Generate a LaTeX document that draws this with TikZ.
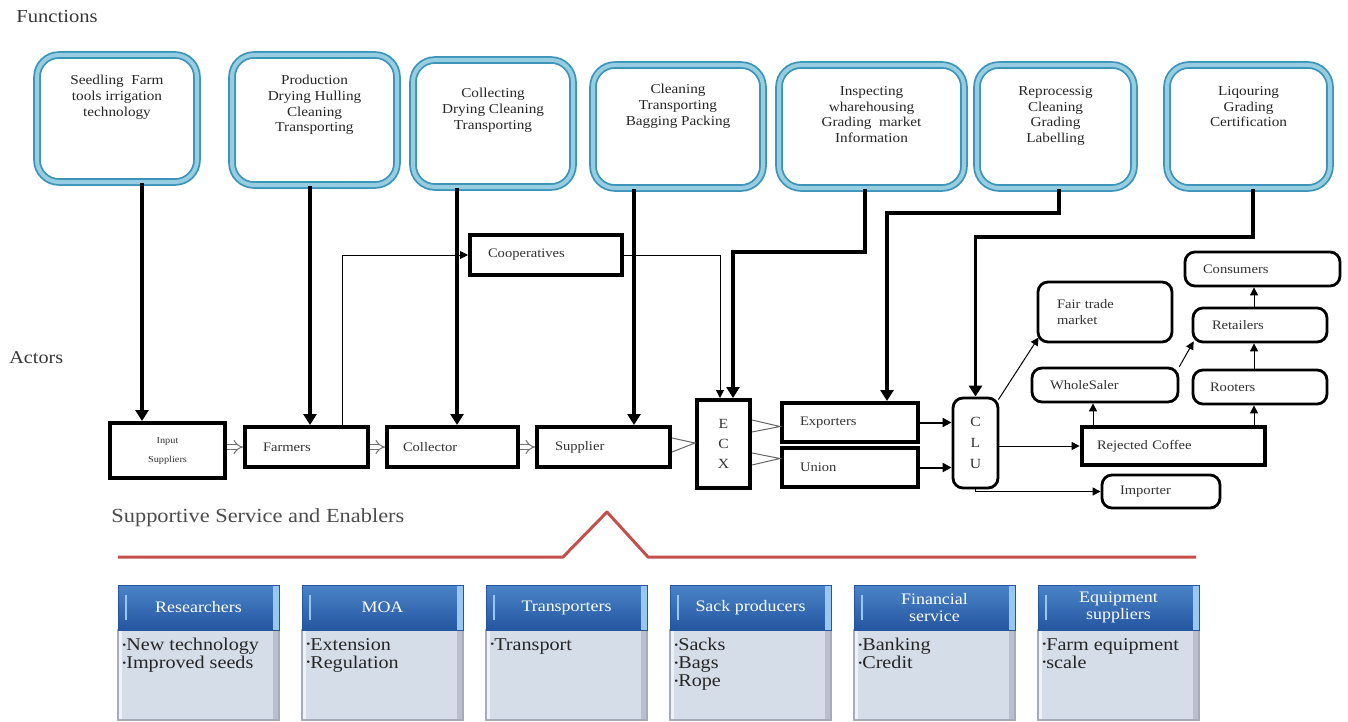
\documentclass[tikz,border=0pt]{standalone}
\usepackage{fontspec}
\setmainfont{Liberation Serif}[FakeStretch=1.12]
\usetikzlibrary{arrows.meta,calc}
\definecolor{fOut}{RGB}{60,148,185}
\definecolor{fIn}{RGB}{150,205,225}
\definecolor{hdTop}{RGB}{75,132,200}
\definecolor{hdBot}{RGB}{36,86,160}
\definecolor{hdLight}{RGB}{150,200,240}
\definecolor{bdFill}{RGB}{213,221,232}
\definecolor{bdDraw}{RGB}{165,172,185}
\definecolor{bdEdge}{RGB}{185,192,204}
\definecolor{redL}{RGB}{195,80,77}
\definecolor{lbl}{RGB}{55,55,55}
\newcommand{\mkbox}[7]{%
  \pgfmathsetmacro\mkw{(#4-#2)*0.5}%
  \pgfmathsetmacro\mkh{(#5-#3)*0.5}%
  \pgfmathsetmacro\mkt{max(\mkw-#6,1)}%
  \node[#7, minimum width=\mkw pt, minimum height=\mkh pt, inner sep=0pt, text width=\mkt pt] (#1) at ({(#2+#4)/2},{(#3+#5)/2})}
\newcommand{\bul}{\raisebox{0.3ex}{\fontsize{5}{5}\selectfont\textbullet}}
\begin{document}
\begin{tikzpicture}[x=0.5pt,y=-0.5pt,
  func/.style={draw=fOut, double=fIn, double distance=2pt, line width=0.9pt, rounded corners=11pt},
  ftext/.style={font=\fontsize{6.8}{7.8}\selectfont, align=center, text=black!85, inner sep=0pt},
  act/.style={draw=black, line width=2pt, fill=white, font=\fontsize{6.5}{8}\selectfont, align=left, text=black!80},
  ract/.style={draw=black, line width=1.4pt, rounded corners=5pt, fill=white, font=\fontsize{6.5}{8}\selectfont, align=left, text=black!80},
  ctr/.style={align=center},
  thk/.style={line width=1.9pt, -{Triangle[width=6.5pt,length=5.5pt]}},
  thn/.style={line width=0.5pt, -{Triangle[width=4pt,length=4pt]}},
  med/.style={line width=1pt, -{Triangle[width=4.5pt,length=4.5pt]}},
  dbl/.style={draw=black!55, double=white, double distance=2pt, line width=0.5pt, -{Implies}},
  wedge/.style={draw=black!60, line width=0.5pt},
  hdr/.style={top color=hdTop, bottom color=hdBot, draw=hdBot, line width=0.5pt,
    text=white, font=\fontsize{8}{8.8}\selectfont, align=center,
    path picture={\fill[hdLight] ([xshift=-3pt]path picture bounding box.north east) rectangle (path picture bounding box.south east);
      \draw[hdLight, line width=0.8pt] ([xshift=4pt,yshift=-5pt]path picture bounding box.north west) -- ([xshift=4pt,yshift=5pt]path picture bounding box.south west);}},
  bdy/.style={fill=bdFill, draw=bdDraw, line width=1pt,
    path picture={\fill[bdEdge] ([xshift=-3pt]path picture bounding box.north east) rectangle (path picture bounding box.south east);
      \fill[white!60!bdFill] (path picture bounding box.north west) rectangle ([xshift=2pt]path picture bounding box.south west);}},
  btext/.style={font=\fontsize{9}{9}\selectfont, align=left, text=black!85, inner sep=0pt},
  lab/.style={text=lbl, inner sep=0pt}
]
\useasboundingbox (0,0) rectangle (1348,722);

% section labels
\node[lab, anchor=west, font=\fontsize{9.2}{10}\selectfont] (lfun) at (16,16) {Functions};
\node[lab, anchor=west, font=\fontsize{9}{10}\selectfont] (lact) at (9,358) {Actors};
\node[lab, anchor=west, font=\fontsize{10}{11}\selectfont, text=black!70] (lsup) at (111,518) {Supportive Service and Enablers};

% function boxes
\mkbox{f1}{37}{55}{197}{182}{0}{func}{};
\mkbox{f2}{232}{55}{397}{185}{0}{func}{};
\mkbox{f3}{413}{60}{573}{187}{0}{func}{};
\mkbox{f4}{593}{65}{763}{188}{0}{func}{};
\mkbox{f5}{779}{65}{964}{188}{0}{func}{};
\mkbox{f6}{977}{65}{1134}{188}{0}{func}{};
\mkbox{f7}{1167}{65}{1330}{188}{0}{func}{};
\node[ftext, anchor=north] (t1) at ($(f1.north)+(0,21)$) {Seedling\ \ Farm\\tools irrigation\\technology};
\node[ftext, anchor=north] (t2) at ($(f2.north)+(0,21)$) {Production\\Drying Hulling\\Cleaning\\Transporting};
\node[ftext, anchor=north] (t3) at ($(f3.north)+(0,29)$) {Collecting\\Drying Cleaning\\Transporting};
\node[ftext, anchor=north] (t4) at ($(f4.north)+(0,20)$) {Cleaning\\Transporting\\Bagging Packing};
\node[ftext, anchor=north] (t5) at ($(f5.north)+(0,22)$) {Inspecting\\wharehousing\\Grading\ \ market\\Information};
\node[ftext, anchor=north] (t6) at ($(f6.north)+(0,22)$) {Reprocessig\\Cleaning\\Grading\\Labelling};
\node[ftext, anchor=north] (t7) at ($(f7.north)+(0,22)$) {Liqouring\\Grading\\Certification};

% actors
\mkbox{inp}{110}{423}{225}{478}{0}{act,ctr,font=\fontsize{4.6}{9.5}\selectfont}{Input\\Suppliers};
\mkbox{farm}{245}{427}{368}{467}{18}{act}{Farmers};
\mkbox{coll}{387}{427}{518}{467}{16}{act}{Collector};
\mkbox{sup}{537}{427}{670}{467}{18}{act}{Supplier};
\mkbox{coop}{470}{235}{622}{275}{18}{act}{Cooperatives};
\mkbox{ecx}{697}{400}{750}{488}{0}{act,ctr,font=\fontsize{7}{10}\selectfont}{E\\C\\X};
\mkbox{exp}{782}{403}{918}{442}{18}{act}{Exporters};
\mkbox{uni}{782}{448}{918}{487}{18}{act}{Union};
\mkbox{clu}{953}{398}{998}{488}{0}{ract,ctr,font=\fontsize{7}{10.5}\selectfont}{C\\L\\U};
\mkbox{fair}{1038}{282}{1172}{342}{19}{ract}{Fair trade\\market\\[2pt]};
\mkbox{cons}{1185}{252}{1340}{286}{18}{ract}{Consumers};
\mkbox{ret}{1193}{308}{1327}{342}{19}{ract}{Retailers};
\mkbox{whs}{1032}{368}{1178}{402}{18}{ract}{WholeSaler};
\mkbox{root}{1193}{370}{1327}{404}{17}{ract}{Rooters};
\mkbox{rej}{1082}{427}{1265}{465}{15}{act,line width=2.4pt}{Rejected Coffee};
\mkbox{imp}{1102}{475}{1220}{508}{18}{ract}{Importer};

% helper coordinates
\coordinate (x1) at (142,0);
\coordinate (x2) at (310,0);
\coordinate (x3) at (457,0);
\coordinate (x4) at (634,0);
\coordinate (k5) at (865,252);
\coordinate (e5) at (733,0);
\coordinate (k6) at (1059,213);
\coordinate (e6) at (887,0);
\coordinate (k7) at (1253,237);
\coordinate (e8) at (342,0);
\coordinate (e9) at (720,0);
\coordinate (c1) at (1093,0);
\coordinate (c2) at (1254,0);

% function arrows
\draw[thk] (x1 |- f1.south) -- (x1 |- inp.north);
\draw[thk] (x2 |- f2.south) -- (x2 |- farm.north);
\draw[thk] (x3 |- f3.south) -- (x3 |- coll.north);
\draw[thk] (x4 |- f4.south) -- (x4 |- sup.north);
\draw[thk] (k5 |- f5.south) -- (k5) -| (e5 |- ecx.north);
\draw[thk] (k6 |- f6.south) -- (k6) -| (e6 |- exp.north);
\draw[thk] (k7 |- f7.south) -- (k7) -| (clu.north);

% cooperative path
\draw[thn] (e8 |- farm.north) |- (coop.west);
\draw[thn] (coop.east) -| (e9 |- ecx.north);

% chain
\draw[dbl] (farm.west -| inp.east) -- (farm.west);
\draw[dbl] (farm.east) -- (coll.west);
\draw[dbl] (coll.east) -- (sup.west);
\draw[wedge] ($(sup.east)+(0,-9)$) -- ($(ecx.west)+(0,-1)$) -- ($(sup.east)+(0,5)$);
\draw[wedge] ($(ecx.east)+(0,-24)$) -- ($(exp.west)+(0,4)$) -- ($(ecx.east)+(0,-12)$);
\draw[wedge] ($(ecx.east)+(0,9)$) -- ($(uni.west)+(0,-9)$) -- ($(ecx.east)+(0,21)$);
\draw[med] (exp.east) -- (clu.west |- exp.east);
\draw[med] (uni.east) -- (clu.west |- uni.east);
\draw[thn] ($(clu.north east)+(-1,3)$) -- ($(fair.south west)+(2,-6)$);
\draw[thn] (clu.east |- rej.west) -- (rej.west);
\draw[thn] (clu.south) |- (imp.west);
\draw[thn] (c1 |- rej.north) -- (c1 |- whs.south);
\draw[thn] (c2 |- rej.north) -- (c2 |- root.south);
\draw[thn] (c2 |- root.north) -- (c2 |- ret.south);
\draw[thn] (c2 |- ret.north) -- (c2 |- cons.south);
\draw[thn] (whs.north east) -- ($(ret.south west)+(2,-2)$);

% red divider
\draw[redL, line width=1.5pt, line join=round] (118,557) -- (563,557) -- (607,512) -- (648,557) -- (1196,557);

% supportive service boxes
\foreach \i/\hd/\bd in {0/{Researchers}/{\bul New technology\\\bul Improved seeds},
  1/{MOA}/{\bul Extension\\\bul Regulation},
  2/{Transporters}/{\bul Transport},
  3/{Sack producers}/{\bul Sacks\\\bul Bags\\\bul Rope},
  4/{Financial\\service}/{\bul Banking\\\bul Credit},
  5/{Equipment\\suppliers}/{\bul Farm equipment\\\bul scale}}{
  \node[bdy, minimum width=80.5pt, minimum height=45pt] (bd\i) at ({198.5+184*\i},675) {};
  \node[hdr, minimum width=80.5pt, minimum height=22.5pt] (hd\i) at ({198.5+184*\i},607.5) {\hd};
  \node[btext, anchor=north west] (bt\i) at ($(bd\i.north west)+(5,9)$) {\bd};
}
\end{tikzpicture}
\end{document}
